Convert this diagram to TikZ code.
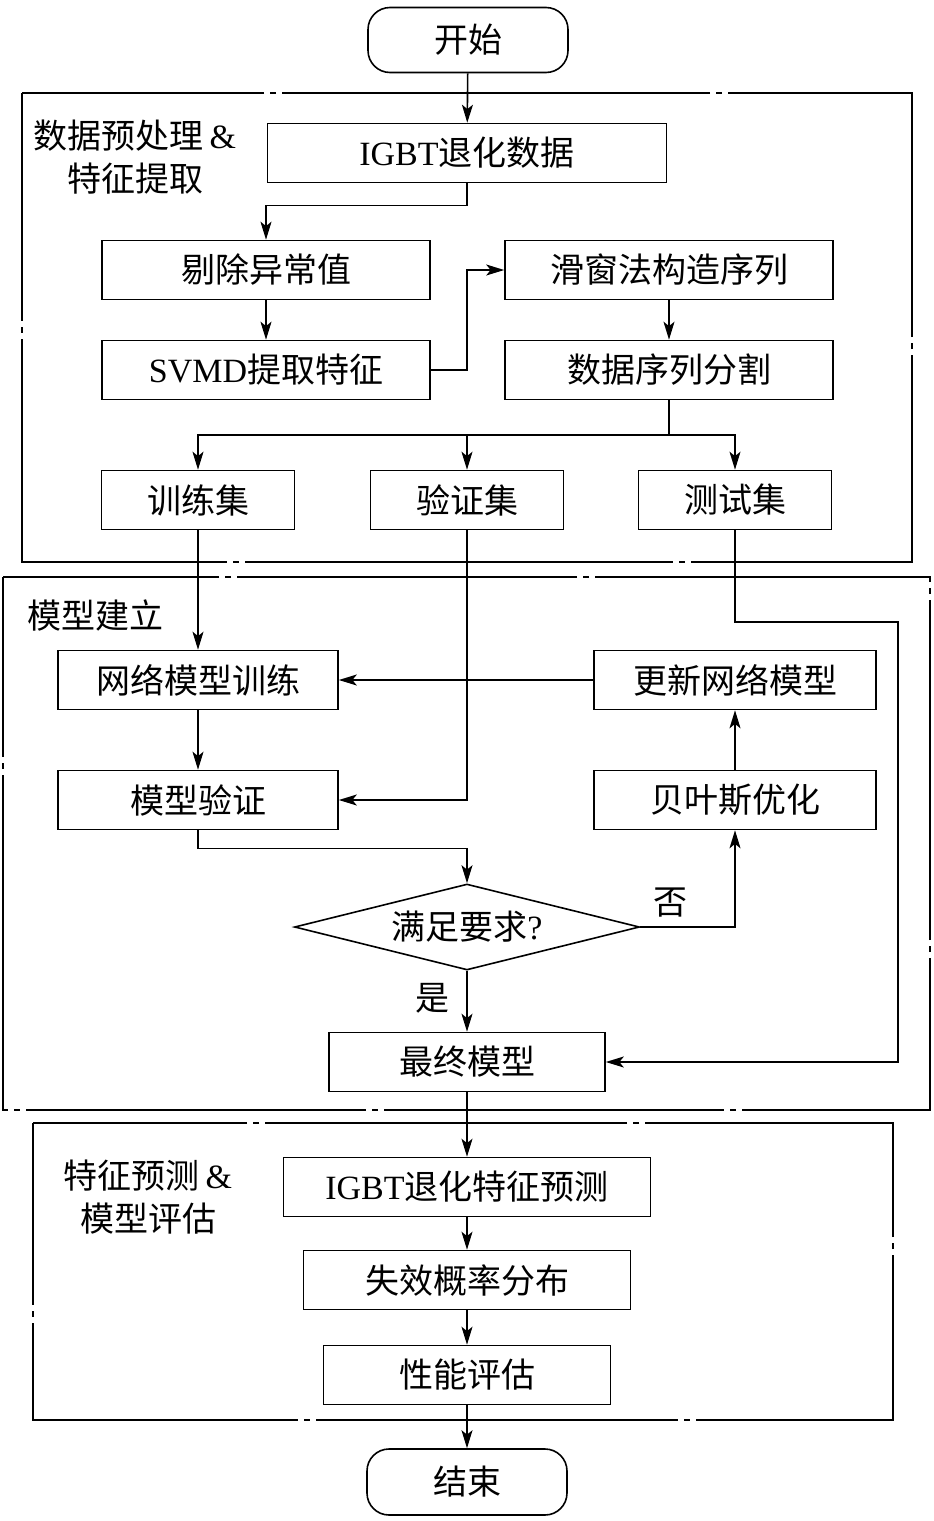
\documentclass[tikz,border=0pt]{standalone}
\usepackage{fontspec}
\setmainfont{Liberation Serif}
\newfontfamily\cjk{Noto Sans CJK SC}
\usetikzlibrary{arrows.meta,shapes.geometric}

\begin{document}
\begin{tikzpicture}[x=0.5pt,y=-0.5pt,line width=0.8pt,
  >={Stealth[length=9pt,width=5.5pt,inset=2.2pt]},
  stepbox/.style={draw,minimum height=29.5pt,inner sep=0pt,font=\cjk\fontsize{17}{20}\selectfont},
  term/.style={stepbox,rounded corners=11pt},
  grplabel/.style={align=center,inner sep=0pt,font=\cjk\fontsize{17}{21.5}\selectfont},
  grpbox/.style={draw,dash pattern=on #1 off 3pt on 3pt off 3pt}]
\useasboundingbox (0,0) rectangle (933,1521);

\draw[grpbox=214pt,dash phase=100pt] (22,93) rectangle (912,562);
\draw[grpbox=170pt,dash phase=80pt] (3,577) rectangle (930,1110);
\draw[grpbox=181pt,dash phase=90pt] (33,1123) rectangle (893,1420);

\node[term,minimum width=100pt,minimum height=32.5pt] (start) at (468,40) {开始};
\node[stepbox,minimum width=199.5pt] (igbt) at (467,153) {\textrm{IGBT}退化数据};
\node[stepbox,minimum width=164pt] (outl) at (266,270) {剔除异常值};
\node[stepbox,minimum width=164pt] (slide) at (669,270) {滑窗法构造序列};
\node[stepbox,minimum width=164pt] (svmd) at (266,370) {\textrm{SVMD}提取特征};
\node[stepbox,minimum width=164pt] (split) at (669,370) {数据序列分割};
\node[stepbox,minimum width=96.5pt] (train) at (198,500) {训练集};
\node[stepbox,minimum width=96.5pt] (valid) at (467,500) {验证集};
\node[stepbox,minimum width=96.5pt] (test) at (735,500) {测试集};
\node[stepbox,minimum width=140pt] (net) at (198,680) {网络模型训练};
\node[stepbox,minimum width=141pt] (update) at (735,680) {更新网络模型};
\node[stepbox,minimum width=140pt] (verif) at (198,800) {模型验证};
\node[stepbox,minimum width=141pt] (bayes) at (735,800) {贝叶斯优化};
\node[stepbox,diamond,aspect=4,minimum width=172.5pt,minimum height=43pt] (judge) at (467,927) {满足要求\textrm{?}};
\node[stepbox,minimum width=138pt] (final) at (467,1062) {最终模型};
\node[stepbox,minimum width=183.5pt] (pred) at (467,1187) {\textrm{IGBT}退化特征预测};
\node[stepbox,minimum width=163.5pt] (fail) at (467,1280) {失效概率分布};
\node[stepbox,minimum width=143.5pt] (perf) at (467,1375) {性能评估};
\node[term,minimum width=100pt,minimum height=33pt] (end) at (467,1482) {结束};

\node[grplabel] (lab1) at (135,157) {数据预处理\textrm{\,\&}\\特征提取};
\node[grplabel] (lab2) at (95,615) {模型建立};
\node[grplabel] (lab3) at (148,1197) {特征预测\textrm{\,\&}\\模型评估};
\node[grplabel] (no) at (670,903) {否};
\node[grplabel] (yes) at (432,998) {是};

\coordinate (fork) at (669,435);
\coordinate (turn) at (898,622);

\draw[->] (start) -- (igbt);
\draw[->] (igbt.south) -- ++(0,22) -| (outl.north);
\draw[->] (outl) -- (svmd);
\draw[->] (svmd.east) -- ++(36,0) |- (slide.west);
\draw[->] (slide) -- (split);
\draw (split.south) -- (fork);
\draw[->] (fork) -| (train.north);
\draw[->] (fork) -| (valid.north);
\draw[->] (fork) -| (test.north);
\draw[->] (train) -- (net);
\draw[->] (valid.south) |- (verif.east);
\draw[->] (test.south) |- (turn) |- (final.east);
\draw[->] (update) -- (net);
\draw[->] (net) -- (verif);
\draw[->] (verif.south) -- ++(0,18) -| (judge.north);
\draw[->] (judge.east) -| (bayes.south);
\draw[->] (bayes) -- (update);
\draw[->] (judge) -- (final);
\draw[->] (final) -- (pred);
\draw[->] (pred) -- (fail);
\draw[->] (fail) -- (perf);
\draw[->] (perf) -- (end);

\end{tikzpicture}
\end{document}
